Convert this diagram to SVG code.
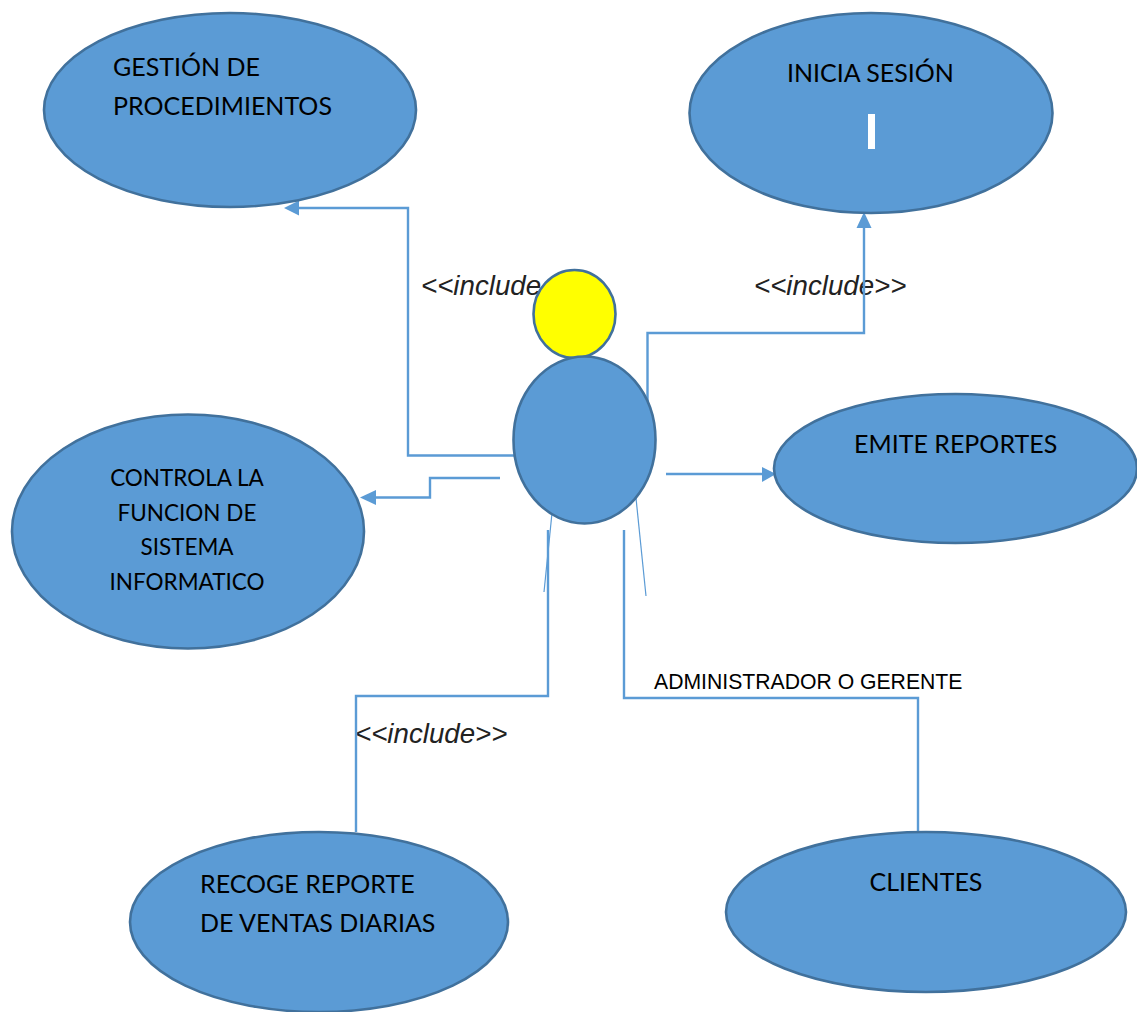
<svg xmlns="http://www.w3.org/2000/svg" width="1137" height="1012" viewBox="0 0 1137 1012">
<style>
.n{fill:#5b9bd5;stroke:#41719c;stroke-width:2.6}
.c{fill:none;stroke:#5b9bd5;stroke-width:2.4}
.t{fill:none;stroke:#5b9bd5;stroke-width:1.2}
.a{fill:#5b9bd5;stroke:none}
.l{font-family:Lato,"Liberation Sans",sans-serif;font-size:25px;fill:#000}
.s{font-size:22.5px}
.i{font-family:"Liberation Sans",Arial,sans-serif;font-style:italic;font-size:27.7px;fill:#222}
.b{font-family:"Liberation Sans",Arial,sans-serif;font-size:21.2px;fill:#000}
</style>
<rect width="1137" height="1012" fill="#fff"/>
<g id="labels">
<text class="i" x="421" y="295">&lt;&lt;include</text>
<text class="i" x="754" y="295">&lt;&lt;include&gt;&gt;</text>
<text class="i" x="355" y="743">&lt;&lt;include&gt;&gt;</text>
<text class="b" x="654" y="689">ADMINISTRADOR O GERENTE</text>
</g>
<g id="connectors">
<path class="c" d="M515 455.500H408V208H298"/>
<path class="a" d="M284 208L299 200.500V215.500Z"/>
<path class="c" d="M647.500 402V333H864V226"/>
<path class="a" d="M864 212L871.500 228H856.500Z"/>
<path class="c" d="M500 478H430V497.500H374"/>
<path class="a" d="M360 497.500L376 490V505Z"/>
<path class="c" d="M666 474H762"/>
<path class="a" d="M776 474L762 467V482Z"/>
<path class="c" d="M548 530V696H356V832"/>
<path class="c" d="M624 530V698H918V832"/>
<path class="t" d="M552 513L544 592"/>
<path class="t" d="M636 498L646 596"/>
</g>
<g id="gestion"><ellipse class="n" cx="230" cy="110" rx="186" ry="97"/>
<text class="l" x="113" y="76">GESTIÓN DE</text><text class="l" x="113" y="115">PROCEDIMIENTOS</text></g>
<g id="inicia"><ellipse class="n" cx="871" cy="113" rx="181.500" ry="100"/>
<text class="l" x="787" y="82">INICIA SESIÓN</text><rect x="868" y="114" width="7" height="35" fill="#fff"/></g>
<g id="emite"><ellipse class="n" cx="955.500" cy="468.500" rx="181.500" ry="74.500"/>
<text class="l" x="854" y="453">EMITE REPORTES</text></g>
<g id="controla"><ellipse class="n" cx="188" cy="531.500" rx="176" ry="117"/>
<text class="l s" x="187" y="486" text-anchor="middle">CONTROLA LA</text><text class="l s" x="187" y="521" text-anchor="middle">FUNCION DE</text><text class="l s" x="187" y="555" text-anchor="middle">SISTEMA</text><text class="l s" x="187" y="590" text-anchor="middle">INFORMATICO</text></g>
<g id="recoge"><ellipse class="n" cx="319" cy="922" rx="189" ry="90"/>
<text class="l" x="200" y="893">RECOGE REPORTE</text><text class="l" x="200" y="932">DE VENTAS DIARIAS</text></g>
<g id="clientes"><ellipse class="n" cx="926" cy="912" rx="200" ry="80"/>
<text class="l" x="926" y="891" text-anchor="middle">CLIENTES</text></g>
<g id="actor">
<ellipse cx="574.500" cy="314" rx="41" ry="44" fill="#ff0" stroke="#41719c" stroke-width="2.600"/>
<ellipse class="n" cx="584.500" cy="440" rx="71" ry="83.500"/>
</g>
</svg>
